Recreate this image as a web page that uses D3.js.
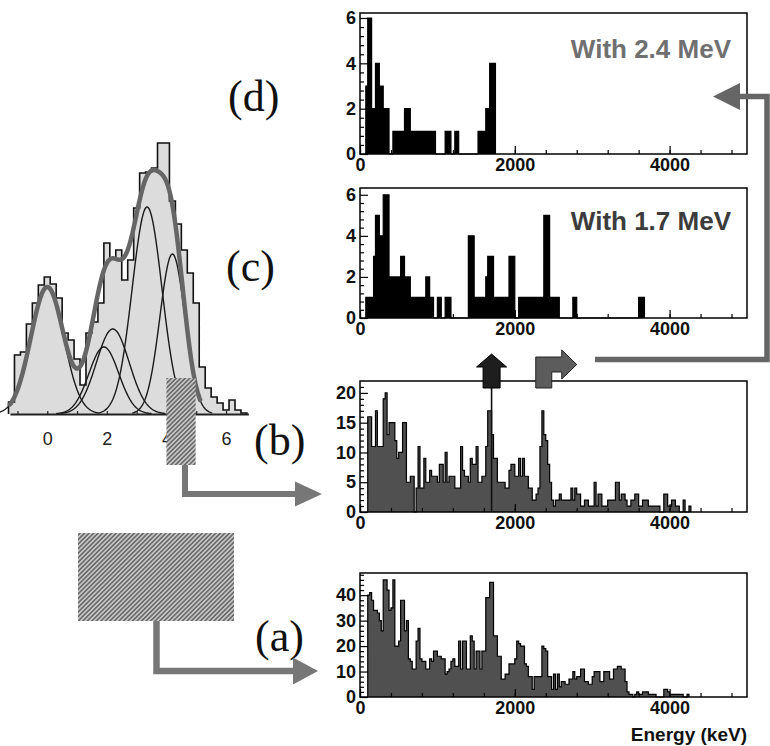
<!DOCTYPE html>
<html><head><meta charset="utf-8">
<script src="https://cdn.jsdelivr.net/npm/d3@7"></script>
<style>body{margin:0;background:#fff}svg{display:block}</style>
</head><body><svg id="c" width="770" height="746"></svg>
<script>
// ---------------- DATA ----------------
const binWidthKeV = 25;           // histogram bin width (keV), bins start at 0 keV
const energyTicks = [0, 2000, 4000];
const energyLabel = "Energy (keV)";

// (a) all events
const countsA = [0,0,0,0,40,41,38,34,34,33,30,26,46,46,42,34,35,46,20,20,22,38,38,26,30,15,14,11,11,22,
27,15,14,14,11,11,15,14,18,18,16,16,15,15,9,10,11,14,15,12,12,22,11,22,22,11,11,24,22,11,
18,18,11,18,18,39,39,45,45,24,24,16,16,7,7,9,9,13,13,13,15,22,21,20,20,13,12,8,8,3,
8,8,8,8,20,19,18,8,8,3,9,3,9,4,6,6,5,5,7,7,10,7,8,8,11,11,6,6,5,5,
8,10,10,10,6,6,10,10,10,7,7,11,11,12,12,11,11,6,2,1,1,0,1,2,1,1,2,2,2,1,
1,1,1,0,0,0,0,3,3,2,1,1,1,1,1,1,1,0,0,1];
const yTicksA = [0, 10, 20, 30, 40];

// (b) gated events
const countsB = [0,0,0,0,16,16,11,11,17,11,11,11,19,20,13,15,15,15,12,9,10,10,15,15,5,5,6,6,0,4,
11,4,4,9,5,5,7,6,6,6,5,8,8,5,10,5,6,6,6,4,4,4,11,7,6,6,5,9,8,8,
11,5,5,6,6,11,17,17,13,9,9,5,5,5,5,4,4,7,8,8,6,6,9,6,9,6,6,4,4,2,
2,3,4,11,17,13,12,8,5,2,1,2,2,3,2,2,2,2,2,4,2,4,3,3,1,1,2,2,1,1,
1,5,1,3,3,1,1,1,2,2,2,2,5,5,2,3,3,2,1,1,2,2,3,3,1,1,2,2,2,1,
1,1,1,1,1,0,0,3,3,1,1,2,2,1,1,0,0,2,0,0,1];
const yTicksB = [0, 5, 10, 15, 20];

// (c) coincident with 1.7 MeV
const countsC = [0,0,0,1,1,1,1,3,5,5,4,4,6,6,6,2,2,2,2,2,2,3,3,2,2,2,1,1,1,1,
1,1,1,1,2,2,1,1,0,0,1,1,0,0,1,1,1,0,0,0,0,0,0,0,0,0,4,4,4,1,
1,1,1,1,1,2,3,3,3,1,1,1,1,1,1,1,1,3,3,3,0,0,1,1,1,1,1,1,1,1,
1,1,1,1,1,5,5,5,1,1,1,1,1,0,0,0,0,0,0,0,1,1,0,0,0,0,0,0,0,0,
0,0,0,0,0,0,0,0,0,0,0,0,0,0,0,0,0,0,0,0,0,0,0,0,1,1,1];
const yTicksC = [0, 2, 4, 6];

// (d) coincident with 2.4 MeV
const countsD = [0,0,0,3,6,6,2,2,4,4,3,3,2,2,2,0,0,1,1,1,1,1,1,2,2,2,1,1,1,1,
1,1,1,1,1,1,1,1,1,0,0,0,0,0,1,1,1,0,0,1,1,0,0,0,0,0,0,0,0,0,
0,1,1,1,1,2,2,4,4,4];
const yTicksD = [0, 2, 4, 6];

const panelLabels = ["(a)", "(b)", "(c)", "(d)"];
const gateTexts = ["With 1.7 MeV", "With 2.4 MeV"];
const gateEnergies = [1700, 2400];

// left: fitted peak spectrum
const peakBinStart = -1.3, peakBinWidth = 0.2;
const peakCounts = [12,59,62,90,111,129,137,130,116,81,74,55,29,81,92,111,171,156,164,134,
154,206,241,242,246,271,271,213,190,164,141,111,47,26,17,11,4,14,4,1];
const peakTicks = [0, 2, 4, 6];
const compMeans  = [0, 1.9, 2.2, 3.35, 4.2];
const compAmps   = [127, 67, 85, 207, 160];
const compSigmas = [0.55, 0.5, 0.55, 0.5, 0.42];

// ---------------- DRAWING ----------------
const svg = d3.select("#c");
svg.append("rect").attr("width", 770).attr("height", 746).attr("fill", "#fff");
const SANS = "'Liberation Sans', Arial, Helvetica, sans-serif";
const SERIF = "'Liberation Serif', 'Times New Roman', serif";
const fmt = d3.format("d");

const defs = svg.append("defs");
const pat = defs.append("pattern").attr("id", "hatch").attr("patternUnits", "userSpaceOnUse")
  .attr("width", 3.2).attr("height", 3.2).attr("patternTransform", "rotate(45)");
pat.append("rect").attr("width", 3.2).attr("height", 3.2).attr("fill", "#c6c6c6");
pat.append("line").attr("x1", 1.6).attr("y1", 0).attr("x2", 1.6).attr("y2", 3.2)
  .attr("stroke", "#6a6a6a").attr("stroke-width", 1.6);

function histPoints(counts, start, bw) {
  let last = counts.length - 1;
  while (last > 0 && counts[last] === 0) last--;
  let first = counts.findIndex(v => v > 0);
  const pts = [[start + first * bw, 0]];
  for (let i = first; i <= last; i++) {
    pts.push([start + i * bw, counts[i]]);
    pts.push([start + (i + 1) * bw, counts[i]]);
  }
  pts.push([start + (last + 1) * bw, 0]);
  return pts;
}

const xE = d3.scaleLinear().domain([0, 5000]).range([360, 747]);

const panels = [
  {counts: countsD, yMax: 6.22, top: 13, bottom: 154, major: yTicksD, minor: 0.4, fill: "#000"},
  {counts: countsC, yMax: 6.33, top: 188, bottom: 318, major: yTicksC, minor: 0.4, fill: "#000"},
  {counts: countsB, yMax: 22, top: 381, bottom: 512, major: yTicksB, minor: 1, fill: "#505050"},
  {counts: countsA, yMax: 48.7, top: 573, bottom: 697, major: yTicksA, minor: 2, fill: "#505050"}
];

function styleAxis(g) {
  g.select(".domain").remove();
  g.selectAll("line").attr("stroke", "#000").attr("stroke-width", 1.2);
  g.selectAll("text").attr("font-family", SANS).attr("font-weight", "bold")
    .attr("font-size", 18).attr("fill", "#111");
}

panels.forEach(p => {
  const g = svg.append("g");
  const y = d3.scaleLinear().domain([0, p.yMax]).range([p.bottom, p.top]);
  const line = d3.line().x(d => xE(d[0])).y(d => y(d[1]));
  g.append("path").datum(histPoints(p.counts, 0, binWidthKeV)).attr("d", line)
    .attr("fill", p.fill).attr("stroke", "#000").attr("stroke-width", 1.2)
    .attr("stroke-linejoin", "miter");
  const minor = d3.range(0, p.yMax, p.minor).filter(v => !p.major.some(m => Math.abs(m - v) < 1e-6));
  g.append("g").attr("transform", "translate(360,0)")
    .call(d3.axisLeft(y).tickValues(minor).tickSizeInner(-4).tickSizeOuter(0).tickFormat(""))
    .call(styleAxis);
  g.append("g").attr("transform", "translate(360,0)")
    .call(d3.axisLeft(y).tickValues(p.major).tickSizeInner(-8).tickSizeOuter(0).tickPadding(4).tickFormat(fmt))
    .call(styleAxis);
  g.append("g").attr("transform", `translate(0,${p.bottom})`)
    .call(d3.axisBottom(xE).tickValues(d3.range(0, 5001, 400)).tickSizeInner(-4).tickSizeOuter(0).tickFormat(""))
    .call(styleAxis);
  g.append("g").attr("transform", `translate(0,${p.bottom})`)
    .call(d3.axisBottom(xE).tickValues(energyTicks).tickSizeInner(-8).tickSizeOuter(0).tickPadding(4).tickFormat(fmt))
    .call(styleAxis);
  g.append("rect").attr("x", 360).attr("y", p.top).attr("width", 387).attr("height", p.bottom - p.top)
    .attr("fill", "none").attr("stroke", "#000").attr("stroke-width", 1.5);
});

// gate annotations
svg.append("text").attr("x", 731).attr("y", 58).attr("text-anchor", "end")
  .attr("font-family", SANS).attr("font-weight", "bold").attr("font-size", 26)
  .attr("fill", "#707070").text(gateTexts[1]);
svg.append("text").attr("x", 731).attr("y", 230).attr("text-anchor", "end")
  .attr("font-family", SANS).attr("font-weight", "bold").attr("font-size", 26)
  .attr("fill", "#3c3c3c").text(gateTexts[0]);

svg.append("text").attr("x", 747).attr("y", 741).attr("text-anchor", "end")
  .attr("font-family", SANS).attr("font-weight", "bold").attr("font-size", 19)
  .attr("fill", "#111").text(energyLabel);

// panel labels
const labelPos = [[255, 651], [254, 455], [226, 281], [228, 111]];
panelLabels.forEach((t, i) => {
  svg.append("text").attr("x", labelPos[i][0]).attr("y", labelPos[i][1])
    .attr("font-family", SERIF).attr("font-size", 44).attr("fill", "#111").text(t);
});

// ---------- left fitted spectrum ----------
const xP = d3.scaleLinear().domain([-1.25, 6.75]).range([10, 248.4]);
const yP = d3.scaleLinear().domain([0, 280]).range([414, 134]);
const lp = d3.line().x(d => xP(d[0])).y(d => yP(d[1]));
const gl = svg.append("g");
gl.append("path").datum(histPoints(peakCounts, peakBinStart, peakBinWidth)).attr("d", lp)
  .attr("fill", "#dcdcdc").attr("stroke", "#111").attr("stroke-width", 1.6);
const gauss = (u, k) => compAmps[k] * Math.exp(-((u - compMeans[k]) ** 2) / (2 * compSigmas[k] ** 2));
compMeans.forEach((m, k) => {
  const s = compSigmas[k];
  const pts = d3.range(m - 3.2 * s, m + 3.2 * s + 1e-9, 0.02).map(u => [u, gauss(u, k)]);
  gl.append("path").datum(pts).attr("d", lp).attr("fill", "none")
    .attr("stroke", "#1a1a1a").attr("stroke-width", 1.4);
});
const totalPts = d3.range(-1.25, 5.15, 0.02).map(u => [u, d3.sum(compMeans, (m, k) => gauss(u, k))]);
gl.append("path").datum(totalPts).attr("d", lp).attr("fill", "none")
  .attr("stroke", "#666").attr("stroke-width", 4.5).attr("stroke-linecap", "round");
const pax = gl.append("g").attr("transform", "translate(0,414)")
  .call(d3.axisBottom(xP).tickValues(d3.range(-1, 7, 1)).tickSizeInner(-3).tickSizeOuter(0).tickPadding(18)
    .tickFormat(d => peakTicks.includes(d) ? d : ""));
pax.select(".domain").attr("stroke", "#222").attr("stroke-width", 2);
pax.selectAll("line").attr("stroke", "#222").attr("stroke-width", 1.2);
pax.selectAll("text").attr("font-family", SANS).attr("font-size", 18).attr("fill", "#222");

// ---------- hatched selection boxes & arrows ----------
const ARW = "#777";
svg.append("rect").attr("x", xP(4.0)).attr("y", 378).attr("width", xP(4.98) - xP(4.0)).attr("height", 87)
  .attr("fill", "url(#hatch)");
svg.append("rect").attr("x", 78).attr("y", 533).attr("width", 156).attr("height", 88)
  .attr("fill", "url(#hatch)");

function elbowArrow(x0, y0, yTurn, xTip, color, w, hw, hl) {
  svg.append("path").attr("d", `M${x0},${y0}V${yTurn}H${xTip - hl}`).attr("fill", "none")
    .attr("stroke", color).attr("stroke-width", w);
  svg.append("path").attr("d", `M${xTip},${yTurn}L${xTip - hl},${yTurn - hw}L${xTip - hl},${yTurn + hw}Z`)
    .attr("fill", color);
}
elbowArrow(185, 465, 494, 322, ARW, 6, 12.5, 27);
elbowArrow(156.5, 621, 671, 318, ARW, 6.5, 13.5, 25);

// right connector from 2.4 MeV gate to panel (d)
const CON = "#666";
svg.append("path").attr("d", "M595,359.5H767V96.5H738").attr("fill", "none")
  .attr("stroke", CON).attr("stroke-width", 5.5);
svg.append("path").attr("d", "M713,96.5L740,83L740,110Z").attr("fill", CON);

// black up arrow at 1.7 MeV gate
const xa = xE(gateEnergies[0]);
svg.append("line").attr("x1", xa).attr("x2", xa).attr("y1", 388).attr("y2", 512)
  .attr("stroke", "#111").attr("stroke-width", 1.6);
svg.append("path").attr("d", `M${xa},354L${xa + 15},367H${xa + 8.5}V388H${xa - 8.5}V367H${xa - 15}Z`)
  .attr("fill", "#1e1e1e").attr("stroke", "#000").attr("stroke-width", 1);

// gray bent arrow at 2.4 MeV gate
const xb = xE(gateEnergies[1]);
svg.append("path").attr("d",
  `M${xb - 10},388V357H${xb + 16}V350L${xb + 31},364.5L${xb + 16},379V372H${xb + 6}V388Z`)
  .attr("fill", "#5c5c5c").attr("stroke", "#222").attr("stroke-width", 1);
</script></body></html>
